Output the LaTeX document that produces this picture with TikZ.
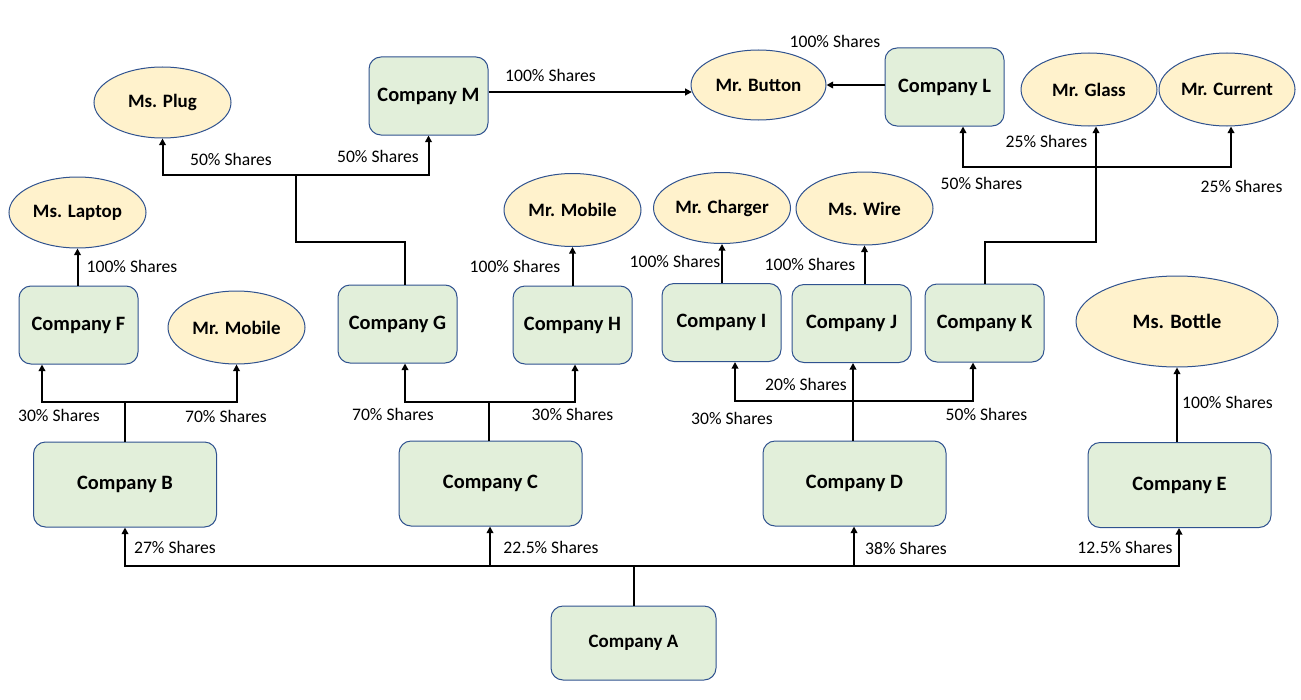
\documentclass[tikz,border=0pt]{standalone}
\usepackage{fontspec}
\setmainfont{Carlito}
\usetikzlibrary{shapes.geometric,arrows.meta,calc}
\definecolor{boxfill}{RGB}{226,239,218}
\definecolor{ellfill}{RGB}{255,242,204}
\definecolor{edge}{RGB}{47,82,143}
\tikzset{
  company/.style={draw=edge,fill=boxfill,line width=0.75pt,rounded corners=9pt,inner sep=0pt,
    font=\fontsize{15.3}{18}\selectfont\bfseries,minimum width=89.25pt,minimum height=58.5pt},
  bigco/.style={company,minimum width=137.25pt,minimum height=63.75pt},
  person/.style={ellipse,draw=edge,fill=ellfill,line width=0.75pt,inner sep=0pt,
    font=\fontsize{14.2}{17}\selectfont\bfseries,minimum width=102.75pt,minimum height=53.25pt},
  lbl/.style={font=\fontsize{13.2}{15}\selectfont,inner sep=0pt},
  conn/.style={line width=1.5pt,black},
  arr/.style={conn,-{Triangle[length=5pt,width=5pt]}}
}
\begin{document}
\begin{tikzpicture}[x=0.75pt,y=-0.75pt]
\useasboundingbox (0,0) rectangle (1301,699);
% companies
\node[company,minimum width=123.75pt,minimum height=55.5pt,font=\fontsize{14.2}{17}\selectfont\bfseries] (A) at (633.5,643) {Company A};
\node[bigco] (B) at (125,484.5) {Company B};
\node[bigco] (C) at (490.5,483.5) {Company C};
\node[bigco] (D) at (854.5,483.5) {Company D};
\node[bigco] (E) at (1179.5,485) {Company E};
\node[company] (F) at (78.5,325) {Company F};
\node[company] (G) at (397.5,324) {Company G};
\node[company] (H) at (572.5,325) {Company H};
\node[company] (I) at (721.5,322.5) {Company I};
\node[company] (J) at (851.5,323.5) {Company J};
\node[company] (K) at (984.5,323) {Company K};
\node[company] (M) at (428.5,96) {Company M};
\node[company] (L) at (944.5,87) {Company L};
% persons
\node[person] (plug) at (162.5,102.5) {Ms. Plug};
\node[person] (laptop) at (77.5,212.5) {Ms. Laptop};
\node[person,minimum height=54.75pt] (mob1) at (236.5,327.5) {Mr. Mobile};
\node[person,minimum height=54.75pt] (mob2) at (572.5,210) {Mr. Mobile};
\node[person] (charger) at (722,208) {Mr. Charger};
\node[person,minimum height=54.75pt] (wire) at (864.5,208.5) {Ms. Wire};
\node[person,minimum width=101.25pt,minimum height=52.5pt] (button) at (758.5,85) {Mr. Button};
\node[person,minimum width=102pt,minimum height=54.75pt] (glass) at (1089,89.5) {Mr. Glass};
\node[person,minimum width=102pt,minimum height=54.75pt] (current) at (1227,89.5) {Mr. Current};
\node[person,minimum width=151.5pt,minimum height=68.25pt,font=\fontsize{15.3}{18}\selectfont\bfseries] (bottle) at (1177,321.5) {Ms. Bottle};
% junctions
\coordinate (jA) at (633.5,566);
\coordinate (jB) at (125,402);
\coordinate (jC) at (489,402);
\coordinate (g1) at (296,242);
\coordinate (g2) at (296,175);
\coordinate (jD) at (853,401);
\coordinate (kb) at (1096,242);
\coordinate (jK) at (1096,167);
% A
\draw[conn] (A.north) -- (jA);
\draw[arr] (jA) -| (B.south);
\draw[arr] (jA) -| ($(C.south)+(-0.5,0)$);
\draw[arr] (jA) -| ($(D.south)+(-0.5,0)$);
\draw[arr] (jA) -| ($(E.south)+(-0.5,0)$);
% B
\draw[conn] (B.north) -- (jB);
\draw[arr] (jB) -| ($(F.south)+(-36.5,0)$);
\draw[arr] (jB) -| (mob1.south);
\draw[arr] ($(F.north)+(-1,0)$) -- (laptop.south);
% C
\draw[conn] ($(C.north)+(-1.5,0)$) -- (jC);
\draw[arr] (jC) -| ($(G.south)+(7.5,0)$);
\draw[arr] (jC) -| ($(H.south)+(2.5,0)$);
\draw[arr] (H.north) -- (mob2.south);
% G
\draw[conn] ($(G.north)+(7.5,0)$) |- (g1) -- (g2);
\draw[arr] (g2) -| (plug.south);
\draw[arr] (g2) -| (M.south);
% M, L -> Button
\draw[arr] (M.east |- button.186) -- (button.186);
\draw[arr] (L.west |- button.east) -- (button.east);
% D
\draw[arr] ($(D.north)+(-1.5,0)$) -- ($(J.south)+(1.5,0)$);
\draw[arr] (jD) -| ($(I.south)+(13.5,0)$);
\draw[arr] (jD) -| ($(K.south)+(-11.5,0)$);
\draw[arr] ($(I.north)+(0.5,0)$) -- (charger.south);
\draw[arr] (J.north -| wire.south) -- (wire.south);
% K
\draw[conn] (K.north) |- (kb) -- (jK);
\draw[arr] (jK) -- (kb |- glass.south);
\draw[arr] (jK) -| ($(L.south)+(18.5,0)$);
\draw[arr] (jK) -| ($(current.south)+(4,0)$);
% E
\draw[arr] (bottle.south |- E.north) -- (bottle.south);
% labels
\node[lbl] (l1) at (175,547) {27\% Shares};
\node[lbl] (l2) at (551,547) {22.5\% Shares};
\node[lbl] (l3) at (906,548) {38\% Shares};
\node[lbl] (l4) at (1125,547) {12.5\% Shares};
\node[lbl] (l5) at (59,415) {30\% Shares};
\node[lbl] (l6) at (226,416) {70\% Shares};
\node[lbl] (l7) at (132,266) {100\% Shares};
\node[lbl] (l8) at (393,414) {70\% Shares};
\node[lbl] (l9) at (572.5,414) {30\% Shares};
\node[lbl] (l10) at (515,266) {100\% Shares};
\node[lbl] (l11) at (231,159) {50\% Shares};
\node[lbl] (l12) at (378,156) {50\% Shares};
\node[lbl] (l13) at (550.5,75) {100\% Shares};
\node[lbl] (l14) at (835,41) {100\% Shares};
\node[lbl] (l15) at (806,384) {20\% Shares};
\node[lbl] (l16) at (732,418) {30\% Shares};
\node[lbl] (l17) at (986.5,414) {50\% Shares};
\node[lbl] (l18) at (675,261) {100\% Shares};
\node[lbl] (l19) at (810,264) {100\% Shares};
\node[lbl] (l20) at (1046.5,141) {25\% Shares};
\node[lbl] (l21) at (981.5,183) {50\% Shares};
\node[lbl] (l22) at (1241.5,186) {25\% Shares};
\node[lbl] (l23) at (1227.5,402) {100\% Shares};
\end{tikzpicture}
\end{document}
